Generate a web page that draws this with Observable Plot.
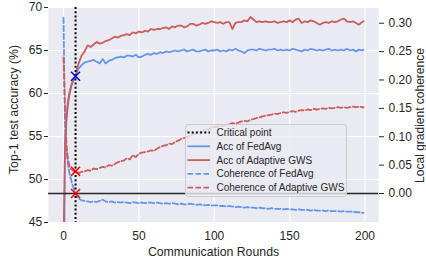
<!DOCTYPE html>
<html><head><meta charset="utf-8">
<script src="https://cdn.jsdelivr.net/npm/d3@7"></script>
<script src="https://cdn.jsdelivr.net/npm/@observablehq/plot@0.6"></script>
<style>
body{margin:0;background:#fff;}
#wrap{position:relative;width:426px;height:263px;font-family:"Liberation Sans",Arial,sans-serif;color:#262626;}
#legend{position:absolute;left:185px;top:124px;width:162px;height:73px;box-sizing:border-box;border:1px solid #cccccc;border-radius:3px;background:rgba(234,234,242,0.8);}
#legend svg{position:absolute;left:0;top:0;overflow:visible;}
</style></head><body><div id="wrap"></div>
<script>
// ---- data ----
const rounds = [
  0,1,2,3,4,5,6,7,8,9,
  10,12,14,16,18,20,22,24,26,28,
  30,32,34,36,38,40,42,44,46,48,
  50,52,54,56,58,60,62,64,66,68,
  70,72,74,76,78,80,82,84,86,88,
  90,92,94,96,98,100,102,104,106,108,
  110,112,114,116,118,120,122,124,126,128,
  130,132,134,136,138,140,142,144,146,148,
  150,152,154,156,158,160,162,164,166,168,
  170,172,174,176,178,180,182,184,186,188,
  190,192,194,196,198,199];
const accFedAvg = [
  30,54.5,57.5,59.2,60.2,60.9,61.4,61.7,62.0,62.5,
  62.9,63.3,63.6,63.7,63.8,63.9,63.7,63.5,64.0,63.5,
  63.8,63.9,64.1,64.2,64.3,64.2,64.4,64.4,64.3,64.5,
  64.2,64.3,64.5,64.6,64.5,64.7,64.6,64.8,64.7,64.9,
  64.8,64.9,65.0,64.9,65.0,65.1,64.9,65.0,65.1,64.9,
  64.9,65.0,65.1,64.9,65.0,65.0,65.1,64.9,65.0,64.9,
  65.1,65.0,65.2,65.0,64.9,64.7,65.0,65.1,65.1,65.0,
  65.2,65.1,65.0,65.1,65.1,65.2,65.0,65.1,65.0,65.1,
  65.0,65.2,65.1,65.0,64.9,65.1,65.0,65.2,65.1,65.0,
  65.1,65.0,65.1,65.2,65.0,65.1,65.0,65.1,65.0,65.2,
  65.0,65.1,64.9,65.1,65.0,65.1];
const accAdaptiveGWS = [
  42.5,54.0,57.0,58.8,59.9,60.7,61.3,61.7,62.0,62.9,
  63.5,64.4,64.9,65.6,65.4,65.7,66.0,65.8,65.9,66.1,
  66.2,66.4,66.6,66.5,66.7,66.8,66.9,66.8,67.1,67.0,
  67.2,67.1,67.3,67.2,67.5,67.4,67.5,67.5,67.6,67.7,
  67.5,67.8,67.7,67.9,67.9,67.7,67.8,68.1,68.1,67.9,
  68.0,68.2,68.1,68.2,68.4,68.3,68.2,68.3,68.1,68.3,
  68.3,67.5,68.2,68.3,68.3,68.5,68.4,68.9,68.6,68.3,
  68.4,68.3,68.4,68.3,68.3,68.4,68.2,68.3,68.4,68.3,
  68.5,68.3,68.6,68.7,68.2,68.4,68.3,68.5,68.4,68.2,
  68.0,68.2,68.3,68.2,68.4,68.3,68.4,68.6,68.7,68.4,
  68.3,68.4,68.2,68.0,68.3,68.4];
const cohFedAvg = [
  0.31,0.12,0.075,0.05,0.035,0.025,0.015,0.007,0.0,-0.005,
  -0.009,-0.012,-0.013,-0.014,-0.015,-0.014,-0.015,-0.013,-0.011,-0.014,
  -0.015,-0.014,-0.016,-0.015,-0.016,-0.015,-0.016,-0.017,-0.015,-0.016,
  -0.017,-0.016,-0.017,-0.016,-0.016,-0.017,-0.016,-0.017,-0.018,-0.017,
  -0.018,-0.017,-0.018,-0.019,-0.018,-0.019,-0.019,-0.018,-0.019,-0.020,
  -0.019,-0.020,-0.021,-0.020,-0.021,-0.021,-0.021,-0.022,-0.022,-0.023,
  -0.022,-0.023,-0.024,-0.023,-0.024,-0.025,-0.024,-0.025,-0.025,-0.026,
  -0.025,-0.026,-0.026,-0.027,-0.026,-0.027,-0.027,-0.027,-0.028,-0.027,
  -0.028,-0.028,-0.029,-0.028,-0.029,-0.029,-0.029,-0.030,-0.029,-0.030,
  -0.030,-0.030,-0.031,-0.030,-0.031,-0.031,-0.031,-0.032,-0.031,-0.032,
  -0.032,-0.032,-0.033,-0.033,-0.034,-0.034];
const cohAdaptiveGWS = [
  0.24,0.15,0.085,0.06,0.048,0.043,0.041,0.039,0.039,0.037,
  0.036,0.038,0.039,0.041,0.040,0.044,0.043,0.045,0.047,0.046,
  0.050,0.049,0.052,0.055,0.057,0.058,0.062,0.060,0.068,0.064,
  0.070,0.072,0.073,0.074,0.076,0.075,0.079,0.082,0.084,0.085,
  0.088,0.087,0.091,0.093,0.096,0.098,0.099,0.102,0.104,0.106,
  0.107,0.110,0.112,0.113,0.116,0.117,0.118,0.119,0.120,0.121,
  0.122,0.124,0.123,0.125,0.127,0.128,0.127,0.130,0.131,0.133,
  0.134,0.136,0.137,0.138,0.139,0.141,0.140,0.142,0.143,0.142,
  0.144,0.145,0.144,0.146,0.147,0.146,0.148,0.147,0.149,0.148,
  0.149,0.150,0.149,0.151,0.150,0.151,0.152,0.151,0.152,0.151,
  0.152,0.153,0.152,0.153,0.152,0.152];
const criticalRound = 8;
const criticalAccFedAvg = 62.0;
const criticalCohAdaptiveGWS = 0.039;
const criticalCohFedAvg = 0.0;
const xTicks = [0,50,100,150,200];
const yTicksLeft = [45,50,55,60,65,70];
const yTicksRight = [0.00,0.05,0.10,0.15,0.20,0.25,0.30];
const legendLabels = ["Critical point","Acc of FedAvg","Acc of Adaptive GWS","Coherence of FedAvg","Coherence of Adaptive GWS"];

// ---- styles ----
const BLUE = "#6495ED", RED = "#CD5C5C", INK = "#262626";
const DASH = "5.5,2.5", DOT = "2,2.2";
const FONT = "'Liberation Sans', Arial, sans-serif";

// right (coherence) axis mapped onto the left scale
const cZero = 48.372, cSlope = 66.0;
const toLeft = c => cZero + cSlope * c;
const fromLeft = v => (v - cZero) / cSlope;

const table = rounds.map((r, i) => ({
  r,
  accF: accFedAvg[i],
  accA: accAdaptiveGWS[i],
  cohF: toLeft(cohFedAvg[i]),
  cohA: toLeft(cohAdaptiveGWS[i])
}));

const labelOpts = {textAnchor: "middle", lineAnchor: "middle", fontSize: 12.3, fill: INK};

const chart = Plot.plot({
  width: 426, height: 263,
  marginLeft: 48, marginRight: 48, marginTop: 7, marginBottom: 41,
  x: {domain: [-9.95, 208.95]},
  y: {domain: [45, 70]},
  style: {fontFamily: FONT, fontSize: "12px", color: INK, background: "transparent", overflow: "visible"},
  marks: [
    Plot.frame({fill: "#EAEAF2", stroke: "none"}),
    Plot.gridX(xTicks, {stroke: "white", strokeOpacity: 1, strokeWidth: 1.2}),
    Plot.gridY(yTicksLeft, {stroke: "white", strokeOpacity: 1, strokeWidth: 1.2}),
    Plot.axisX(xTicks, {tickSize: 0, tickPadding: 9, label: null, fontSize: 12}),
    Plot.axisY(yTicksLeft, {anchor: "left", tickSize: 4, tickPadding: 2.3, label: null, fontSize: 12}),
    Plot.axisY(yTicksRight.map(toLeft), {anchor: "right", tickSize: 5, tickPadding: 5, label: null, fontSize: 12,
      tickFormat: d => d3.format(".2f")(Math.abs(fromLeft(d)) < 1e-9 ? 0 : fromLeft(d))}),
    Plot.lineY(table, {x: "r", y: "cohF", stroke: BLUE, strokeWidth: 1.8, strokeDasharray: DASH, clip: true}),
    Plot.lineY(table, {x: "r", y: "cohA", stroke: RED, strokeWidth: 1.8, strokeDasharray: DASH, clip: true}),
    Plot.lineY(table, {x: "r", y: "accF", stroke: BLUE, strokeWidth: 1.8, clip: true}),
    Plot.lineY(table, {x: "r", y: "accA", stroke: RED, strokeWidth: 1.8, clip: true}),
    Plot.ruleY([toLeft(0)], {stroke: INK, strokeWidth: 1.3}),
    Plot.ruleX([criticalRound], {stroke: "black", strokeWidth: 2, strokeDasharray: DOT}),
    Plot.dot([{r: criticalRound, v: criticalAccFedAvg}], {x: "r", y: "v", symbol: "times", r: 4.2, stroke: "blue", strokeWidth: 1.5}),
    Plot.dot([{r: criticalRound, v: toLeft(criticalCohAdaptiveGWS)}, {r: criticalRound, v: toLeft(criticalCohFedAvg)}],
      {x: "r", y: "v", symbol: "times", r: 4.2, stroke: "red", strokeWidth: 1.5}),
    Plot.text(["Communication Rounds"], {...labelOpts, frameAnchor: "bottom", dy: 29.5}),
    Plot.text(["Top-1 test accuracy (%)"], {...labelOpts, frameAnchor: "left", rotate: -90, dx: -34, dy: -5.5}),
    Plot.text(["Local gradient coherence"], {...labelOpts, frameAnchor: "right", rotate: -90, dx: 41.5, dy: 0.5, fontSize: 12})
  ]
});

const wrap = document.getElementById("wrap");
wrap.appendChild(chart);

// ---- legend ----
const legendStyles = [
  {stroke: "black", dash: DOT, width: 2},
  {stroke: BLUE, dash: null, width: 1.8},
  {stroke: RED, dash: null, width: 1.8},
  {stroke: BLUE, dash: DASH, width: 1.8},
  {stroke: RED, dash: DASH, width: 1.8}
];
const leg = document.createElement("div");
leg.id = "legend";
const ns = "http://www.w3.org/2000/svg";
const svg = document.createElementNS(ns, "svg");
svg.setAttribute("width", 162); svg.setAttribute("height", 73);
legendLabels.forEach((lab, i) => {
  const y = 7.5 + i * 13.8;
  const ln = document.createElementNS(ns, "line");
  ln.setAttribute("x1", 1.5); ln.setAttribute("x2", 24);
  ln.setAttribute("y1", y); ln.setAttribute("y2", y);
  ln.setAttribute("stroke", legendStyles[i].stroke);
  ln.setAttribute("stroke-width", legendStyles[i].width);
  if (legendStyles[i].dash) ln.setAttribute("stroke-dasharray", legendStyles[i].dash);
  svg.appendChild(ln);
  const t = document.createElementNS(ns, "text");
  t.setAttribute("x", 30.5); t.setAttribute("y", y);
  t.setAttribute("dy", "0.35em");
  t.setAttribute("font-size", "10px");
  t.setAttribute("font-family", FONT);
  t.setAttribute("fill", INK);
  t.textContent = lab;
  svg.appendChild(t);
});
leg.appendChild(svg);
wrap.appendChild(leg);
</script>
</body></html>
